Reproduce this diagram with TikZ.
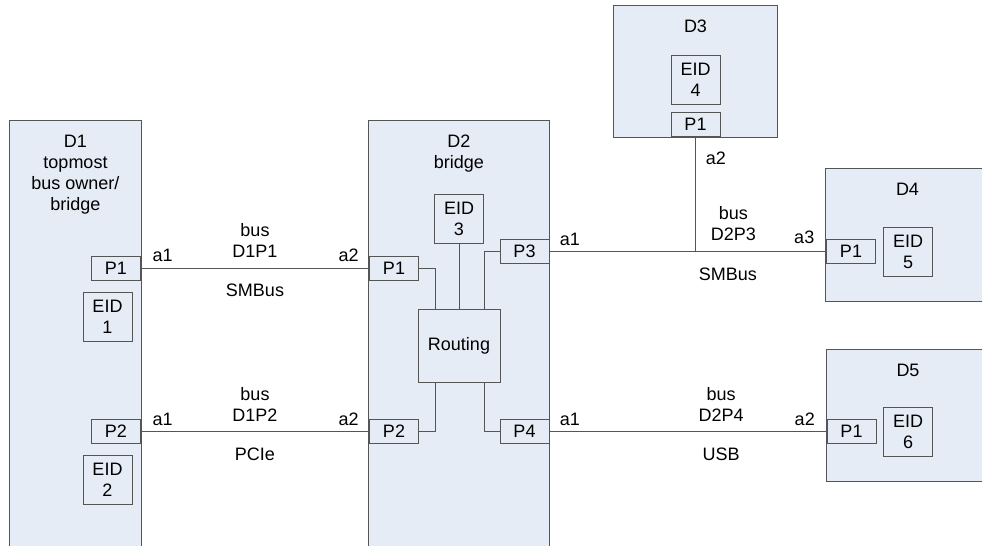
\documentclass[tikz,border=0pt]{standalone}
\usepackage{fontspec}
\setmainfont{Liberation Sans}
\usepackage{xcolor}
\usetikzlibrary{positioning}

\definecolor{devfill}{RGB}{230,236,246}
\definecolor{edgegray}{RGB}{85,85,85}

\begin{document}
\begin{tikzpicture}[
    x=0.025cm, y=-0.025cm,
    font=\fontsize{12.8}{15}\selectfont,
    box/.style={draw=edgegray, fill=devfill, line width=0.7pt, inner sep=0pt, align=center},
    dev/.style={box},
    port/.style={box, minimum width=1.225cm, minimum height=0.6cm},
    eid/.style={box, minimum width=1.225cm, minimum height=1.225cm},
    devname/.style={inner sep=0pt, align=center},
    lnk/.style={draw=edgegray, line width=0.7pt},
    buslbl/.style={inner sep=0pt, align=center},
    endlbl/.style={inner sep=0pt}
  ]
  \useasboundingbox (0,0) rectangle (982,546);
  \clip (0,0) rectangle (982,546);

  % Devices.
  \node[dev, minimum width=3.275cm, minimum height=11cm, anchor=north] (d1) at (75.5,120) {};
  \node[dev, minimum width=4.5cm, minimum height=11cm, anchor=north] (d2) at (459,120) {};
  \node[dev, minimum width=4.075cm, minimum height=3.275cm] (d3) at (695.5,71.5) {};
  \node[dev, minimum width=4.075cm, minimum height=3.3cm] (d4) at (907.5,235) {};
  \node[dev, minimum width=4.075cm, minimum height=3.275cm] (d5) at (908,415.5) {};

  \node[devname, below=0.36cm of d1.north] (d1n) {D1\\topmost\\bus owner/\\bridge};
  \node[devname, below=0.36cm of d2.north] (d2n) {D2\\bridge};
  \node[devname, below=0.36cm of d3.north] (d3n) {D3};
  \node[devname, below=0.36cm of d4.north] (d4n) {D4};
  \node[devname, below=0.36cm of d5.north] (d5n) {D5};

  % D1 ports and EIDs.
  \node[port] (d1p1) at (116,268) {P1};
  \node[eid]  (eid1) at (107.5,317) {EID\\1};
  \node[port] (d1p2) at (116,431.5) {P2};
  \node[eid]  (eid2) at (107.5,479.5) {EID\\2};

  % D2 bridge internals.
  \node[eid]  (eid3) at (459,218.5) {EID\\3};
  \node[port] (d2p1) at (394,268) {P1};
  \node[port] (d2p3) at (524.5,251.5) {P3};
  \node[box, minimum width=2.05cm, minimum height=1.825cm] (rout) at (459,345.5) {Routing};
  \node[port] (d2p2) at (394,431.5) {P2};
  \node[port] (d2p4) at (524.5,431.5) {P4};

  \draw[lnk] (d2p1.east) -| ([xshift=-0.6cm]rout.north);
  \draw[lnk] (eid3) -- (rout);
  \draw[lnk] (d2p3.west) -| ([xshift=0.625cm]rout.north);
  \draw[lnk] (d2p2.east) -| ([xshift=-0.6cm]rout.south);
  \draw[lnk] (d2p4.west) -| ([xshift=0.625cm]rout.south);

  % D3, D4, D5.
  \node[eid]  (eid4) at (695.5,79.5) {EID\\4};
  \node[port] (d3p1) at (695.5,124.5) {P1};
  \node[port] (d4p1) at (851,251.5) {P1};
  \node[eid]  (eid5) at (908,251.5) {EID\\5};
  \node[port] (d5p1) at (851.5,431.5) {P1};
  \node[eid]  (eid6) at (908,431.5) {EID\\6};

  % Buses.
  \draw[lnk] (d1p1) -- node[buslbl, above=7pt] {bus\\D1P1} node[buslbl, below=11pt] {SMBus}
    node[endlbl, pos=0, above right=4pt and 8pt] {a1} node[endlbl, pos=1, above left=4pt and 7pt] {a2} (d2p1);
  \draw[lnk] (d1p2) -- node[buslbl, above=7pt] {bus\\D1P2} node[buslbl, below=11pt] {PCIe}
    node[endlbl, pos=0, above right=4pt and 8pt] {a1} node[endlbl, pos=1, above left=4pt and 7pt] {a2} (d2p2);
  \draw[lnk] (d2p3) -- node[buslbl, pos=0.665, above=7pt] {bus\\D2P3} node[buslbl, pos=0.645, below=11pt] {SMBus}
    node[endlbl, pos=0, above right=4pt and 7pt] {a1} node[endlbl, pos=1, above left=5pt and 8pt] {a3} (d4p1);
  \draw[lnk] (d3p1) -- node[endlbl, pos=0, below right=10pt and 7pt] {a2} (d3p1 |- d4p1);
  \draw[lnk] (d2p4) -- node[buslbl, pos=0.62, above=7pt] {bus\\D2P4} node[buslbl, pos=0.62, below=11pt] {USB}
    node[endlbl, pos=0, above right=4pt and 7pt] {a1} node[endlbl, pos=1, above left=4pt and 8pt] {a2} (d5p1);
\end{tikzpicture}
\end{document}
